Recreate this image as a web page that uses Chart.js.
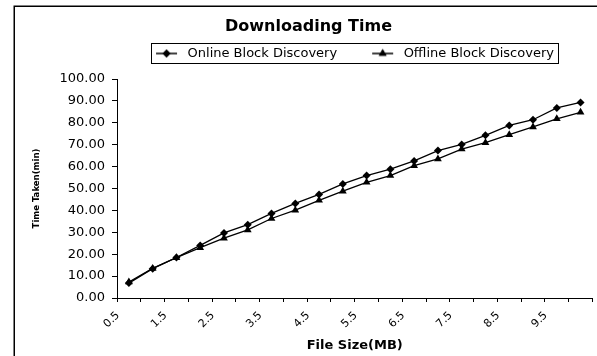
<!DOCTYPE html>
<html>
<head>
<meta charset="utf-8">
<script src="https://cdn.jsdelivr.net/npm/chart.js@4/dist/chart.umd.min.js"></script>
<style>
html,body{margin:0;padding:0;background:#fff;}
#wrap{width:597px;height:356px;position:relative;}
</style>
</head>
<body>
<div id="wrap"><canvas id="c"></canvas></div>
<script>
// ---- data ----
const categories = [0.5,1,1.5,2,2.5,3,3.5,4,4.5,5,5.5,6,6.5,7,7.5,8,8.5,9,9.5,10];
const onlineTimes  = [6.8,13.4,18.5,24.0,29.7,33.5,38.6,43.2,47.3,52.1,55.9,58.8,62.6,67.3,70.1,74.3,78.8,81.4,86.8,89.3];
const offlineTimes = [7.3,13.5,18.4,23.0,27.3,31.1,36.3,40.1,44.6,48.8,52.8,55.9,60.4,63.5,68.0,70.9,74.6,78.1,81.8,84.8];
const seriesNames = ['Online Block Discovery','Offline Block Discovery'];
const yMin = 0, yMax = 100, yStep = 10;
const chartTitle = 'Downloading Time';
const xTitle = 'File Size(MB)';
const yTitle = 'Time Taken(min)';

// ---- legend glyphs (line with marker, Excel style) ----
function legendGlyph(style, radius){
  const c = document.createElement('canvas');
  c.width = 54; c.height = 12;
  const g = c.getContext('2d');
  g.strokeStyle = '#000'; g.lineWidth = 1.5;
  g.beginPath(); g.moveTo(29, 6); g.lineTo(50, 6); g.stroke();
  g.fillStyle = '#000';
  Chart.helpers.drawPoint(g, {pointStyle: style, radius: radius, rotation: 0, borderWidth: 0}, 39.5, 6);
  g.fill();
  return c;
}
const glyphs = [legendGlyph('rectRot', 4), legendGlyph('triangle', 4.5)];

const framePlugin = {
  id: 'frame',
  beforeDraw(chart){
    const c = chart.ctx;
    c.save();
    c.fillStyle = '#fff';
    c.fillRect(0, 0, chart.width, chart.height);
    c.strokeStyle = '#000';
    c.lineWidth = 1.5;
    c.strokeRect(14.25, 6.25, chart.width + 40, chart.height + 40);
    c.restore();
  }
};

const legendBoxPlugin = {
  id: 'legendBox',
  afterInit(chart){
    const lg = chart.legend;
    const f = lg.fit;
    lg.fit = function(){ f.call(this); this.height += 9; };
  },
  afterLayout(chart){
    chart.legend.left += 32;
    chart.legend.right += 32;
  },
  afterDraw(chart){
    const hb = chart.legend.legendHitBoxes;
    if (!hb || !hb.length) return;
    const first = hb[0], last = hb[hb.length - 1];
    const c = chart.ctx;
    c.save();
    c.strokeStyle = '#000';
    c.lineWidth = 1;
    const l = Math.round(first.left + 24) + 0.5;
    const r = Math.round(last.left + last.width + 4) + 0.5;
    const t = Math.round(first.top - 4) + 0.5;
    const b = Math.round(first.top + first.height + 3) + 0.5;
    c.strokeRect(l, t, r - l, b - t);
    c.restore();
  }
};

Chart.defaults.font.family = "'DejaVu Sans', sans-serif";
Chart.defaults.color = '#000';

new Chart(document.getElementById('c'), {
  type: 'line',
  data: {
    labels: categories.map(String),
    datasets: [
      {
        label: seriesNames[0],
        data: onlineTimes,
        borderColor: '#000',
        backgroundColor: '#000',
        borderWidth: 1.3,
        pointStyle: 'rectRot',
        pointRadius: 4,
        pointBorderWidth: 0,
        tension: 0,
        fill: false
      },
      {
        label: seriesNames[1],
        data: offlineTimes,
        borderColor: '#000',
        backgroundColor: '#000',
        borderWidth: 1.3,
        pointStyle: 'triangle',
        pointRadius: 4.5,
        pointBorderWidth: 0,
        tension: 0,
        fill: false
      }
    ]
  },
  options: {
    responsive: true,
    maintainAspectRatio: false,
    animation: false,
    devicePixelRatio: 1,
    layout: { padding: { top: 6, left: 24, right: 4, bottom: 0 } },
    plugins: {
      tooltip: { enabled: false },
      title: {
        display: true,
        text: chartTitle,
        color: '#000',
        font: { size: 16, weight: 'bold' },
        padding: { top: 11.4, bottom: 4.4 }
      },
      legend: {
        display: true,
        position: 'top',
        labels: {
          usePointStyle: true,
          pointStyleWidth: 54,
          padding: 6,
          color: '#000',
          font: { size: 13 },
          generateLabels(chart){
            return chart.data.datasets.map((ds, i) => ({
              text: ds.label,
              pointStyle: glyphs[i],
              fillStyle: '#000',
              strokeStyle: '#000',
              lineWidth: 0,
              hidden: false,
              datasetIndex: i
            }));
          }
        }
      }
    },
    scales: {
      x: {
        type: 'category',
        offset: true,
        grid: { offset: true, drawOnChartArea: false, drawTicks: true, tickLength: 4, color: '#000' },
        border: { color: '#000', width: 1 },
        ticks: {
          autoSkip: false,
          minRotation: 45,
          maxRotation: 45,
          labelOffset: -11,
          padding: 7,
          color: '#000',
          font: { size: 11 },
          callback(value, index){ return index % 2 === 0 ? String(categories[index]) : ''; }
        },
        title: {
          display: true,
          text: xTitle,
          color: '#000',
          font: { size: 13, weight: 'bold' },
          padding: { top: 0, bottom: 2.2 }
        },
        afterFit(s){ s.height = 58; }
      },
      y: {
        min: yMin,
        max: yMax,
        grid: { drawOnChartArea: false, drawTicks: true, tickLength: 5, color: '#000' },
        border: { color: '#000', width: 1 },
        ticks: {
          stepSize: yStep,
          padding: 7,
          color: '#000',
          font: { size: 13 },
          callback(v){ return Number(v).toFixed(2); }
        },
        title: {
          display: true,
          text: yTitle,
          color: '#000',
          font: { size: 9.5, weight: 'bold', family: "'Liberation Sans Narrow', 'DejaVu Sans Condensed', sans-serif" },
          padding: { top: 7.3, bottom: 0 }
        },
        afterFit(s){ s.width = 93; }
      }
    }
  },
  plugins: [framePlugin, legendBoxPlugin]
});
</script>
</body>
</html>
